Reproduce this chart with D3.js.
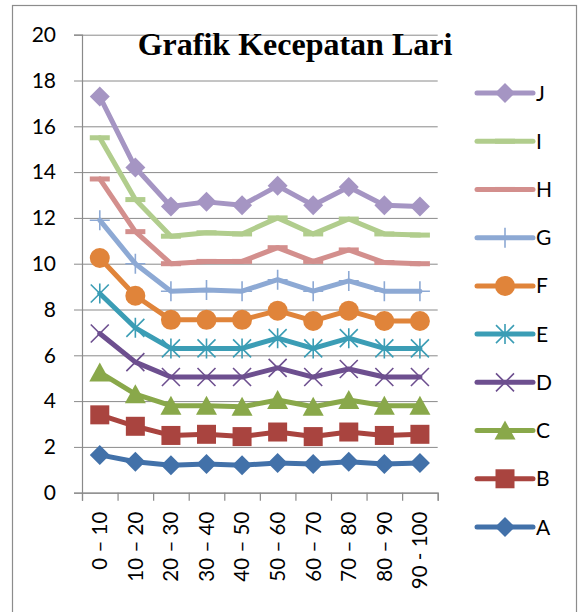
<!DOCTYPE html>
<html>
<head>
<meta charset="utf-8">
<script src="https://cdn.jsdelivr.net/npm/d3@7"></script>
<style>
  body { margin: 0; background: #fff; }
  svg { display: block; }
</style>
</head>
<body>
<div id="chart"></div>
<script>
var svgWidth = 580;
var svgHeight = 612;

// categories and series
var categories = ["0 \u2013 10", "10 \u2013 20", "20 \u2013 30", "30 \u2013 40", "40 \u2013 50",
  "50 \u2013 60", "60 \u2013 70", "70 \u2013 80", "80 \u2013 90", "90 - 100"];
var seriesNames = ["A", "B", "C", "D", "E", "F", "G", "H", "I", "J"];
var yTicks = [0, 2, 4, 6, 8, 10, 12, 14, 16, 18, 20];

var valuesA = [1.65, 1.35, 1.2, 1.25, 1.2, 1.3, 1.25, 1.35, 1.25, 1.3];
var valuesB = [3.4, 2.9, 2.5, 2.55, 2.45, 2.65, 2.45, 2.65, 2.5, 2.55];
var valuesC = [5.25, 4.3, 3.8, 3.8, 3.75, 4.05, 3.75, 4.05, 3.8, 3.8];
var valuesD = [6.95, 5.7, 5.05, 5.05, 5.05, 5.45, 5.05, 5.4, 5.05, 5.05];
var valuesE = [8.7, 7.2, 6.3, 6.3, 6.3, 6.75, 6.3, 6.75, 6.3, 6.3];
var valuesF = [10.25, 8.6, 7.55, 7.55, 7.55, 7.95, 7.5, 7.95, 7.5, 7.5];
var valuesG = [11.9, 10.0, 8.8, 8.85, 8.8, 9.3, 8.8, 9.25, 8.8, 8.8];
var valuesH = [13.7, 11.4, 10.0, 10.1, 10.1, 10.7, 10.1, 10.6, 10.05, 10.0];
var valuesI = [15.5, 12.8, 11.2, 11.35, 11.3, 12.0, 11.3, 11.95, 11.3, 11.25];
var valuesJ = [17.3, 14.2, 12.5, 12.7, 12.55, 13.4, 12.55, 13.35, 12.55, 12.5];

var colors = ["#4271a9", "#a9443f", "#89a84a", "#6d4f8f", "#3b9db5",
  "#e0843a", "#8da9d4", "#d38f8d", "#b1cd8d", "#a595c3"];
var markers = ["diamond", "square", "triangle", "x", "star", "circle", "plus", "dash", "dash", "diamond"];

var allValues = [valuesA, valuesB, valuesC, valuesD, valuesE, valuesF, valuesG, valuesH, valuesI, valuesJ];
var series = seriesNames.map(function(name, i) {
  return { name: name, values: allValues[i], color: colors[i], marker: markers[i] };
});

var plot = { left: 82, right: 437.7, top: 34.7, bottom: 492.7 };
var plotW = plot.right - plot.left;
var plotH = plot.bottom - plot.top;

var svg = d3.select("#chart").append("svg")
  .attr("width", svgWidth)
  .attr("height", svgHeight);

// outer frame
svg.append("rect")
  .attr("x", 12.5).attr("y", 5.5)
  .attr("width", 564).attr("height", 620)
  .attr("fill", "none")
  .attr("stroke", "#8c8c8c")
  .attr("stroke-width", 1.2);

var xScale = d3.scaleBand().domain(categories).range([0, plotW]).padding(0);
var xEdge = d3.scaleLinear().domain([0, categories.length]).range([0, plotW]);
var yScale = d3.scaleLinear().domain([0, 20]).range([plotH, 0]);

var chartGroup = svg.append("g")
  .attr("transform", `translate(${plot.left}, ${plot.top})`);

// gridlines
var grid = chartGroup.append("g")
  .call(d3.axisLeft(yScale).tickValues(yTicks).tickSize(-plotW).tickFormat(""));
grid.select(".domain").remove();
grid.selectAll("line").attr("stroke", "#8a8a8a").attr("stroke-width", 1);

// y axis
var yAxis = chartGroup.append("g")
  .call(d3.axisLeft(yScale).tickValues(yTicks).tickSize(8).tickPadding(18));
yAxis.select(".domain").attr("stroke", "#8a8a8a").attr("stroke-width", 1.2);
yAxis.selectAll("line").attr("stroke", "#8a8a8a");
yAxis.selectAll("text")
  .attr("font-family", "Lato, 'Open Sans', sans-serif")
  .attr("font-size", 21)
  .attr("fill", "#000");

// x axis ticks at band edges
var xTickAxis = chartGroup.append("g")
  .attr("transform", `translate(0, ${plotH})`)
  .call(d3.axisBottom(xEdge).tickValues(d3.range(categories.length + 1)).tickSize(8).tickFormat(""));
xTickAxis.selectAll("path, line").attr("stroke", "#8a8a8a").attr("stroke-width", 1.2);

// x labels, rotated
var xLabelAxis = chartGroup.append("g")
  .attr("transform", `translate(0, ${plotH})`)
  .call(d3.axisBottom(xScale).tickSize(0));
xLabelAxis.select(".domain").remove();
xLabelAxis.selectAll("text")
  .attr("transform", "rotate(-90)")
  .attr("x", -19)
  .attr("y", 0)
  .attr("dy", "0.36em")
  .attr("text-anchor", "end")
  .attr("font-family", "Lato, 'Open Sans', sans-serif")
  .attr("font-size", 20.5)
  .attr("fill", "#000");

// marker drawing
function drawMarker(g, type, color) {
  var s = 10;
  if (type === "diamond") {
    g.append("path").attr("d", `M0,${-s}L${s},0L0,${s}L${-s},0Z`).attr("fill", color);
  } else if (type === "square") {
    g.append("rect").attr("x", -9.5).attr("y", -9.5).attr("width", 19).attr("height", 19).attr("fill", color);
  } else if (type === "triangle") {
    g.append("path").attr("d", "M0,-10L10.5,9L-10.5,9Z").attr("fill", color);
  } else if (type === "circle") {
    g.append("circle").attr("r", 10).attr("fill", color);
  } else if (type === "x") {
    g.append("path").attr("d", "M-9,-9L9,9M9,-9L-9,9").attr("stroke", color).attr("stroke-width", 1.6).attr("fill", "none");
  } else if (type === "star") {
    g.append("path").attr("d", "M-9,-9L9,9M9,-9L-9,9M0,-10L0,10").attr("stroke", color).attr("stroke-width", 1.6).attr("fill", "none");
  } else if (type === "plus") {
    g.append("path").attr("d", "M0,-10L0,10M-10,0L10,0").attr("stroke", color).attr("stroke-width", 1.6).attr("fill", "none");
  } else if (type === "dash") {
    g.append("rect").attr("x", -10).attr("y", -2.5).attr("width", 20).attr("height", 5).attr("fill", color);
  }
}

var line = d3.line()
  .x(function(d, i) { return xScale(categories[i]) + xScale.bandwidth() / 2; })
  .y(function(d) { return yScale(d); });

series.forEach(function(s) {
  var g = chartGroup.append("g").attr("class", "series-" + s.name);
  g.append("path")
    .attr("d", line(s.values))
    .attr("fill", "none")
    .attr("stroke", s.color)
    .attr("stroke-width", 5)
    .attr("stroke-linejoin", "round")
    .attr("stroke-linecap", "round");
  g.selectAll(".marker")
    .data(s.values)
    .enter()
    .append("g")
    .attr("class", "marker")
    .attr("transform", function(d, i) {
      return `translate(${xScale(categories[i]) + xScale.bandwidth() / 2}, ${yScale(d)})`;
    })
    .each(function() { drawMarker(d3.select(this), s.marker, s.color); });
});

// title
svg.append("text")
  .attr("x", 295)
  .attr("y", 55)
  .attr("text-anchor", "middle")
  .attr("font-family", "'Liberation Serif', 'Times New Roman', serif")
  .attr("font-weight", "bold")
  .attr("font-size", 32)
  .attr("fill", "#000")
  .text("Grafik Kecepatan Lari");

// legend, J on top
var legendY = d3.scalePoint().domain(seriesNames.slice().reverse()).range([93, 527]);
var legend = svg.append("g");
series.forEach(function(s) {
  var lg = legend.append("g").attr("transform", `translate(0, ${legendY(s.name)})`);
  lg.append("line")
    .attr("x1", 477).attr("x2", 533)
    .attr("stroke", s.color)
    .attr("stroke-width", 5)
    .attr("stroke-linecap", "round");
  drawMarker(lg.append("g").attr("transform", "translate(505, 0)"), s.marker, s.color);
  lg.append("text")
    .attr("x", 536)
    .attr("y", 0)
    .attr("dy", "0.36em")
    .attr("font-family", "Lato, 'Open Sans', sans-serif")
    .attr("font-size", 21)
    .attr("fill", "#000")
    .text(s.name);
});
</script>
</body>
</html>
